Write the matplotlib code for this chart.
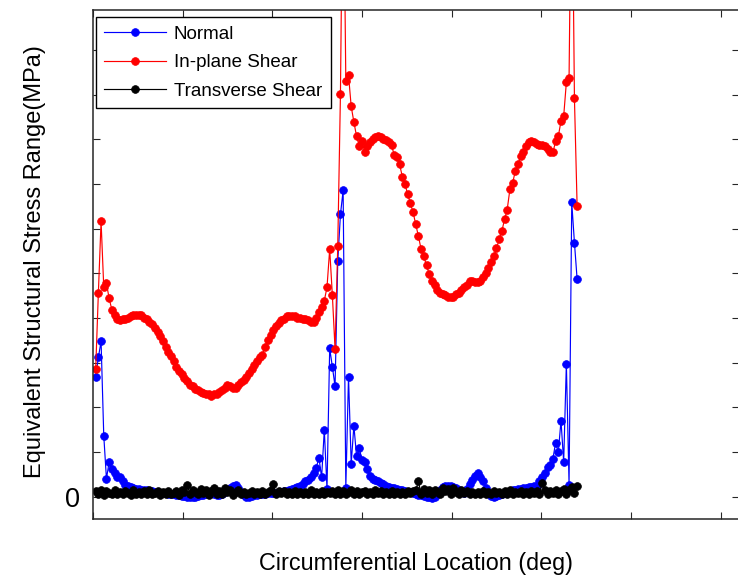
import numpy as np
import matplotlib
matplotlib.use("Agg")
import matplotlib.pyplot as plt

plt.rcParams['font.family'] = ['Liberation Sans', 'DejaVu Sans']

# Sample locations (deg), 1.5 deg spacing
location_deg = np.arange(1, 181) * 1.5

normal = [
    26.9, 31.2, 34.8, 13.7, 4.0, 7.8, 6.1, 5.4, 4.5, 4.5,
    3.4, 2.7, 2.5, 2.2, 2.0, 1.8, 1.8, 1.6, 1.6, 1.6,
    1.3, 1.3, 1.1, 1.1, 0.9, 0.9, 0.9, 0.7, 0.7, 0.7,
    0.4, 0.4, 0.2, 0.2, 0.0, 0.0, 0.0, 0.0, 0.2, 0.4,
    0.4, 0.7, 0.7, 0.9, 0.7, 0.4, 0.4, 0.7, 1.1, 1.6,
    2.0, 2.5, 2.7, 2.0, 1.1, 0.4, 0.0, 0.0, 0.2, 0.4,
    0.4, 0.7, 0.7, 0.7, 0.9, 0.9, 0.9, 0.9, 1.1, 1.1,
    1.3, 1.3, 1.6, 1.8, 2.0, 2.2, 2.5, 2.9, 3.4, 3.8,
    4.5, 5.2, 6.5, 8.7, 4.3, 15.0, 1.8, 33.2, 29.1, 24.7,
    52.7, 63.2, 68.6, 2.0, 26.9, 7.4, 15.9, 9.0, 10.8, 8.3,
    7.8, 6.1, 4.7, 4.0, 3.8, 3.6, 3.1, 2.9, 2.5, 2.2,
    2.0, 2.0, 1.8, 1.6, 1.6, 1.3, 1.1, 1.1, 0.9, 0.7,
    0.4, 0.4, 0.2, 0.0, 0.0, -0.2, 0.0, 0.7, 1.6, 2.2,
    2.5, 2.5, 2.5, 2.2, 2.0, 1.6, 1.1, 0.9, 1.8, 2.9,
    3.8, 4.7, 5.2, 4.5, 3.6, 2.0, 0.9, 0.2, 0.0, 0.2,
    0.4, 0.7, 0.9, 1.1, 1.3, 1.6, 1.6, 1.8, 1.8, 2.0,
    2.0, 2.2, 2.2, 2.5, 2.5, 3.4, 4.5, 5.2, 6.7, 7.2,
    8.5, 12.1, 9.9, 17.0, 7.8, 29.8, 2.7, 65.9, 56.9, 48.7,
]

in_plane_shear = [
    28.5, 45.7, 61.7, 46.9, 47.8, 44.4, 41.9, 40.6, 39.9, 39.5,
    39.7, 39.9, 40.1, 40.4, 40.6, 40.8, 40.8, 40.6, 40.1, 39.7,
    39.2, 38.6, 37.7, 36.8, 35.9, 34.8, 33.6, 32.5, 31.4, 30.3,
    29.1, 28.2, 27.4, 26.5, 25.8, 25.1, 24.7, 24.2, 23.8, 23.5,
    23.3, 23.1, 22.9, 22.6, 22.9, 23.1, 23.5, 24.0, 24.4, 24.9,
    24.7, 24.4, 24.4, 24.9, 25.6, 26.2, 26.9, 27.8, 28.7, 29.4,
    30.3, 31.2, 31.8, 33.6, 35.2, 36.3, 37.4, 38.3, 39.0, 39.5,
    39.9, 40.4, 40.4, 40.4, 40.4, 40.1, 40.1, 39.9, 39.7, 39.5,
    39.2, 39.2, 40.1, 41.3, 42.4, 43.9, 46.9, 55.4, 45.1, 33.0,
    56.1, 90.1, 150.0, 93.0, 94.4, 87.4, 83.9, 80.7, 78.5, 79.6,
    77.3, 78.5, 79.4, 80.0, 80.5, 80.7, 80.5, 80.0, 79.8, 79.4,
    78.7, 76.5, 76.0, 74.4, 71.7, 70.0, 67.7, 65.7, 63.7, 61.0,
    58.3, 55.4, 53.8, 51.8, 49.8, 48.4, 47.3, 46.4, 45.7, 45.5,
    45.1, 44.8, 44.8, 44.8, 45.3, 45.7, 46.4, 46.9, 47.5, 48.2,
    48.2, 48.0, 48.0, 48.4, 49.1, 50.2, 51.3, 52.5, 53.8, 55.6,
    57.6, 59.4, 62.1, 64.3, 68.8, 70.2, 72.9, 74.4, 76.2, 77.3,
    78.5, 79.4, 79.6, 79.4, 79.1, 78.7, 78.7, 78.5, 77.8, 77.3,
    77.1, 79.6, 80.7, 84.1, 85.2, 92.8, 93.7, 150.0, 89.2, 65.0,
]

transverse_shear = [
    1.3, 0.6, 1.5, 0.4, 1.2, 0.9, 0.5, 1.4, 0.7, 1.1,
    0.5, 1.3, 0.8, 0.4, 1.5, 0.6, 1.0, 0.5, 1.2, 0.7,
    1.4, 0.5, 0.9, 1.2, 0.4, 1.1, 0.6, 1.3, 0.5, 0.9,
    1.2, 0.4, 1.6, 1.0, 2.7, 0.6, 1.4, 1.0, 0.5, 1.7,
    0.8, 1.5, 0.4, 1.3, 1.9, 0.6, 1.2, 0.5, 2.0, 1.1,
    1.6, 0.4, 1.0, 1.4, 0.6, 1.1, 0.5, 0.9, 1.2, 0.6,
    1.0, 0.5, 1.3, 0.7, 1.1, 1.4, 2.9, 0.6, 1.2, 0.8,
    1.3, 0.5, 1.0, 0.7, 1.2, 0.6, 1.0, 0.5, 1.1, 0.6,
    1.4, 0.7, 1.0, 0.6, 1.3, 0.5, 1.1, 0.8, 1.2, 0.6,
    1.5, 0.5, 1.3, 0.7, 1.0, 1.6, 0.6, 1.2, 0.5, 1.0,
    1.3, 0.7, 1.1, 0.5, 1.4, 0.8, 1.2, 0.6, 1.0, 0.5,
    1.2, 0.7, 1.0, 0.6, 1.1, 0.5, 1.3, 0.8, 1.2, 1.5,
    3.4, 0.6, 1.8, 0.9, 1.4, 0.5, 1.6, 1.0, 0.6, 1.9,
    1.3, 1.8, 0.5, 2.0, 1.1, 0.6, 1.4, 0.8, 1.2, 0.5,
    1.0, 0.6, 1.1, 0.5, 1.2, 0.7, 1.0, 0.5, 1.3, 0.8,
    1.1, 0.5, 1.2, 0.7, 1.4, 0.6, 1.0, 0.8, 1.3, 0.6,
    1.1, 0.7, 1.3, 0.9, 1.2, 0.7, 3.1, 1.4, 0.6, 1.2,
    0.8, 1.5, 0.6, 1.3, 1.8, 0.5, 1.4, 2.2, 0.9, 2.5,
]

series_labels = ['Normal', 'In-plane Shear', 'Transverse Shear']
series_colors = ['#0000ff', '#ff0000', '#000000']

y_ticks = list(range(0, 101, 10))
y_tick_labels = ['0'] + [''] * 10
x_ticks = list(range(0, 351, 50))

fig = plt.figure(figsize=(7.38, 5.76), dpi=100)
ax = fig.add_axes([93 / 738, 57 / 576, 645.5 / 738, 509 / 576])

for vals, lab, col in zip([normal, in_plane_shear, transverse_shear],
                          series_labels, series_colors):
    ax.plot(location_deg, vals, '-', color=col, lw=0.85, marker='o',
            markersize=5.6, markeredgewidth=0.5, markeredgecolor=col,
            markerfacecolor=col, label=lab)

ax.set_xlim(0, 360)
ax.set_ylim(-5, 109)
ax.set_xticks(x_ticks)
ax.set_xticklabels([''] * len(x_ticks))
ax.set_yticks(y_ticks)
ax.set_yticklabels(y_tick_labels, fontsize=19.5)
ax.tick_params(direction='in', length=5, width=0.8, top=True, right=True,
               colors='#262626', labelcolor='black')
ax.tick_params(axis='y', pad=9)
for s in ax.spines.values():
    s.set_linewidth(1.1)
    s.set_color('#262626')

ax.set_xlabel('Circumferential Location (deg)', fontsize=16.8)
ax.xaxis.set_label_coords(0.5, -0.064)
ax.set_ylabel('Equivalent Structural Stress Range(MPa)', fontsize=17)
ax.yaxis.set_label_coords(-0.073, 0.505)

leg = ax.legend(loc='upper left', bbox_to_anchor=(0.0047, 0.986),
                borderaxespad=0, fontsize=13.5, frameon=True, fancybox=False,
                edgecolor='black', framealpha=1, numpoints=1,
                handlelength=3.3, handletextpad=0.4, labelspacing=0.61,
                borderpad=0.45)
leg.get_frame().set_linewidth(1.0)

fig.savefig('out.png', dpi=100)
